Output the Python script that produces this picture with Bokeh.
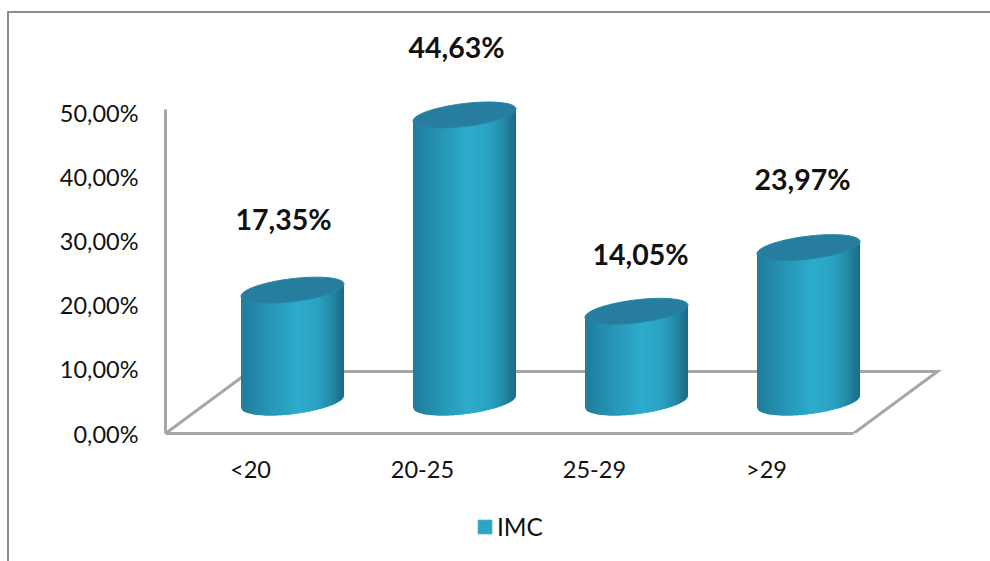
import numpy as np
from bokeh.core.properties import value
from bokeh.embed import file_html
from bokeh.layouts import column
from bokeh.models import ColumnDataSource, FixedTicker, InlineStyleSheet, Legend, LegendItem, Range1d
from bokeh.plotting import figure
from bokeh.resources import INLINE

# Body mass index groups and their share of the sample (%)
categories = ["<20", "20-25", "25-29", ">29"]
shares = [17.35, 44.63, 14.05, 23.97]
y_ticks = [0, 10, 20, 30, 40, 50]
y_tick_labels = ["0,00%", "10,00%", "20,00%", "30,00%", "40,00%", "50,00%"]
series_name = "IMC"

# Hand-placed data label offsets, in pixels from each cylinder's top
label_dx = [-9, -8, 4, -6]
label_dy = [71, 68, 57, 69]

FONT = "Lato"
AXIS_GREY = "#a6a6a6"
CAP = "#277d9e"
LEGEND_BLUE = "#2ea4c4"

# Pixel scale of the plot area
PX_X = 172.0
PX_Y = 6.42
FRAME_LEFT = 165
PLOT_H, LEGEND_H = 500, 61

# Page frame: a rule along the top and left of the whole chart
frame_rule = InlineStyleSheet(css="""
:host::before {
  content: ""; position: absolute; left: 7px; top: 11px;
  width: 981px; height: 548px; z-index: 5; pointer-events: none;
  border-left: 2px solid #8c8c8c; border-top: 2px solid #8c8c8c;
}
""")

p = figure(
    width=990, height=PLOT_H, output_backend="svg", toolbar_location=None,
    x_range=Range1d(-85 / PX_X, (990 - 250) / PX_X),
    y_range=Range1d(0, 433 / PX_Y),
    min_border_left=FRAME_LEFT, min_border_right=0,
    min_border_top=0, min_border_bottom=PLOT_H - 433,
    background_fill_color="white", border_fill_color="white",
    outline_line_color=None,
)
p.grid.visible = False

# Pseudo-3D depth of the floor
depth_x = 84 / PX_X
depth_y = 62 / PX_Y
xmin, xmax = -85 / PX_X, len(categories) - 85 / PX_X

p.xaxis.ticker = FixedTicker(ticks=list(range(len(categories))))
p.xaxis.major_label_overrides = {i: c for i, c in enumerate(categories)}
p.xaxis.bounds = (xmin, xmax)
p.yaxis.ticker = FixedTicker(ticks=y_ticks)
p.yaxis.major_label_overrides = dict(zip(y_ticks, y_tick_labels))
p.yaxis.bounds = (0, 50.4)
for ax, standoff in ((p.xaxis, 15), (p.yaxis, 21)):
    ax.axis_line_color = AXIS_GREY
    ax.axis_line_width = 3
    ax.major_tick_line_color = None
    ax.minor_tick_line_color = None
    ax.major_label_text_font = FONT
    ax.major_label_text_font_size = "23.5px"
    ax.major_label_text_color = "#111111"
    ax.major_label_standoff = standoff

# Floor outline behind the cylinders
p.line([xmin, xmin + depth_x, xmax + depth_x, xmax], [0, depth_y, depth_y, 0],
       line_color=AXIS_GREY, line_width=3, line_join="miter")

# Horizontal shading of a cylinder wall, from left edge to right edge
shade_u = [-1.0, -0.75, -0.4, 0.1, 0.5, 0.8, 1.0]
shade_rgb = np.array([[0x1e, 0x7e, 0x9c], [0x22, 0x88, 0xa8], [0x28, 0x98, 0xb9],
                      [0x2e, 0xac, 0xcd], [0x2b, 0xa2, 0xc3], [0x22, 0x86, 0xa3],
                      [0x1a, 0x69, 0x83]])


def shade(u):
    rgb = [int(np.interp(u, shade_u, shade_rgb[:, k])) for k in range(3)]
    return "#%02x%02x%02x" % tuple(rgb)


half_w = 51.5 / PX_X
tilt = 6.0 / PX_Y
minor = 11.5 / PX_Y
base = 32 / PX_Y
n_strips = 51
edges = np.linspace(-1, 1, n_strips + 1)

wall_xs, wall_ys, wall_colors = [], [], []
cap_xs, cap_ys = [], []
for i, share in enumerate(shares):
    cx = i + depth_x / 2
    top = base + share
    for k in range(n_strips):
        # each strip runs on under its neighbour so no seam shows between them
        u = np.linspace(edges[k], edges[min(k + 2, n_strips)], 5)
        low = base + tilt * u - 1.1 * minor * np.sqrt(np.clip(1 - u ** 2, 0, 1))
        high = top + tilt * u
        wall_xs.append(list(cx + half_w * np.r_[u, u[::-1]]))
        wall_ys.append(list(np.r_[low, high[::-1]]))
        wall_colors.append(shade((edges[k] + edges[k + 1]) / 2))
    t = np.linspace(0, 2 * np.pi, 80)
    cap_xs.append(list(cx + half_w * np.cos(t)))
    cap_ys.append(list(top + tilt * np.cos(t) + minor * np.sin(t)))

p.patches(wall_xs, wall_ys, fill_color=wall_colors, line_color=None)
p.patches(cap_xs, cap_ys, fill_color=CAP, line_color="#2487a8", line_width=1)

# Value labels
labels = ColumnDataSource(dict(
    x=[i + depth_x / 2 for i in range(len(shares))],
    y=[base + s for s in shares],
    text=[f"{s:.2f}%".replace(".", ",") for s in shares],
    dx=label_dx,
    dy=[-d for d in label_dy],
))
p.text("x", "y", text="text", x_offset="dx", y_offset="dy", source=labels,
       text_font=value(FONT), text_font_style="bold", text_font_size="28.5px",
       text_color="#111111", text_align="center", text_baseline="middle")

# Legend strip under the plot; its frame lines up with the plot's frame
key = figure(
    width=990, height=LEGEND_H, output_backend="svg", toolbar_location=None,
    x_range=Range1d(0, 1), y_range=Range1d(0, 1),
    x_axis_location=None, y_axis_location=None,
    min_border_left=0, min_border_right=0, min_border_top=0, min_border_bottom=0,
    background_fill_color="white", border_fill_color="white",
    outline_line_color=None,
)
key.grid.visible = False
swatch = key.quad(left=[0], right=[0], top=[0], bottom=[0], fill_color=LEGEND_BLUE, line_color=LEGEND_BLUE)
key.add_layout(Legend(
    items=[LegendItem(label=series_name, renderers=[swatch])],
    location=(311, 20), orientation="horizontal",
    background_fill_alpha=0, border_line_color=None,
    glyph_width=17, glyph_height=17, label_text_font=FONT,
    label_text_font_size="24.5px", label_text_color="#111111",
    margin=0, padding=2, spacing=0, label_standoff=4,
))

page = column(p, key, spacing=0, stylesheets=[frame_rule])
open("out.html", "w").write(file_html(page, INLINE))
